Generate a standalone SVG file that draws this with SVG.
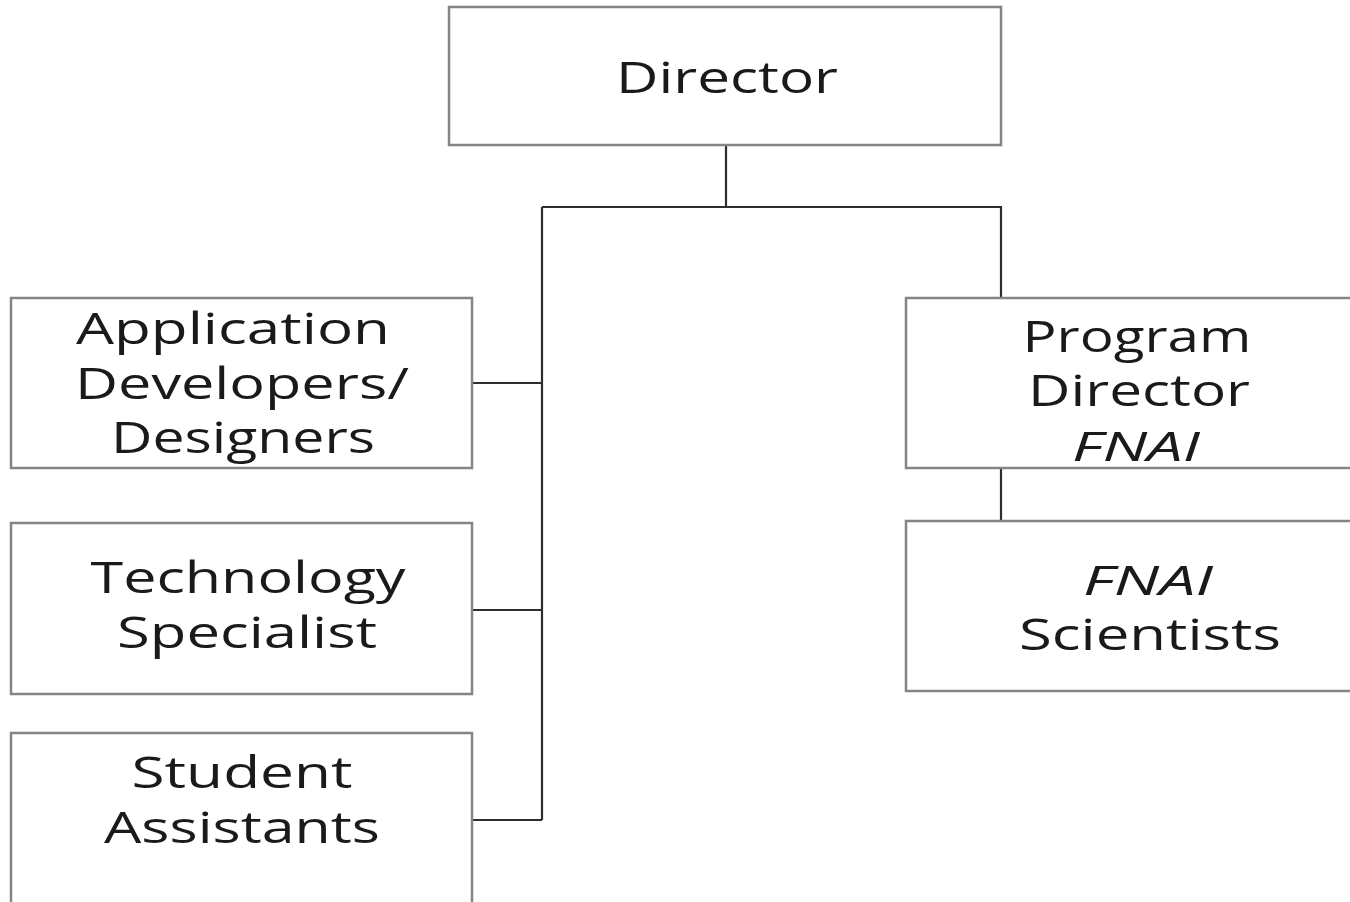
<svg xmlns="http://www.w3.org/2000/svg" width="1350" height="902" viewBox="0 0 1350 902">
  <style>
    .box { fill: #ffffff; stroke: #858585; stroke-width: 2.5; }
    .link { fill: none; stroke: #2e2e2e; stroke-width: 2.2; }
    .label { font-family: "Open Sans", "Liberation Sans", sans-serif; font-size: 43px; fill: #1a1a1a; text-anchor: middle; }
    .em { font-style: italic; font-size: 41px; }
  </style>
  <rect width="1350" height="902" fill="#ffffff"/>

  <!-- reporting lines -->
  <g id="connectors">
    <path class="link" d="M726,145 V207"/>
    <path class="link" d="M542,207 H1001 V298"/>
    <path class="link" d="M542,207 V820"/>
    <path class="link" d="M472,383 H542"/>
    <path class="link" d="M472,610 H542"/>
    <path class="link" d="M472,820 H542"/>
    <path class="link" d="M1001,468 V521"/>
  </g>

  <g id="director">
    <rect class="box" x="449" y="7" width="552" height="138"/>
    <text class="label" x="727" y="93" textLength="222" lengthAdjust="spacingAndGlyphs">Director</text>
  </g>

  <g id="app-developers">
    <rect class="box" x="11" y="298" width="461" height="170"/>
    <text class="label" x="233" y="344" textLength="314" lengthAdjust="spacingAndGlyphs">Application</text>
    <text class="label" x="242" y="399" textLength="334" lengthAdjust="spacingAndGlyphs">Developers/</text>
    <text class="label" x="243" y="453" textLength="264" lengthAdjust="spacingAndGlyphs">Designers</text>
  </g>

  <g id="tech-specialist">
    <rect class="box" x="11" y="523" width="461" height="171"/>
    <text class="label" x="248" y="593" textLength="315" lengthAdjust="spacingAndGlyphs">Technology</text>
    <text class="label" x="247" y="648" textLength="260" lengthAdjust="spacingAndGlyphs">Specialist</text>
  </g>

  <g id="student-assistants">
    <rect class="box" x="11" y="733" width="461" height="200"/>
    <text class="label" x="242" y="788" textLength="221" lengthAdjust="spacingAndGlyphs">Student</text>
    <text class="label" x="242" y="843" textLength="276" lengthAdjust="spacingAndGlyphs">Assistants</text>
  </g>

  <g id="program-director">
    <rect class="box" x="906" y="298" width="500" height="170"/>
    <text class="label" x="1137" y="352" textLength="229" lengthAdjust="spacingAndGlyphs">Program</text>
    <text class="label" x="1139" y="406" textLength="222" lengthAdjust="spacingAndGlyphs">Director</text>
    <text class="label em" x="1136" y="461" textLength="128" lengthAdjust="spacingAndGlyphs">FNAI</text>
  </g>

  <g id="fnai-scientists">
    <rect class="box" x="906" y="521" width="500" height="170"/>
    <text class="label em" x="1148" y="595" textLength="130" lengthAdjust="spacingAndGlyphs">FNAI</text>
    <text class="label" x="1150" y="650" textLength="262" lengthAdjust="spacingAndGlyphs">Scientists</text>
  </g>
</svg>
